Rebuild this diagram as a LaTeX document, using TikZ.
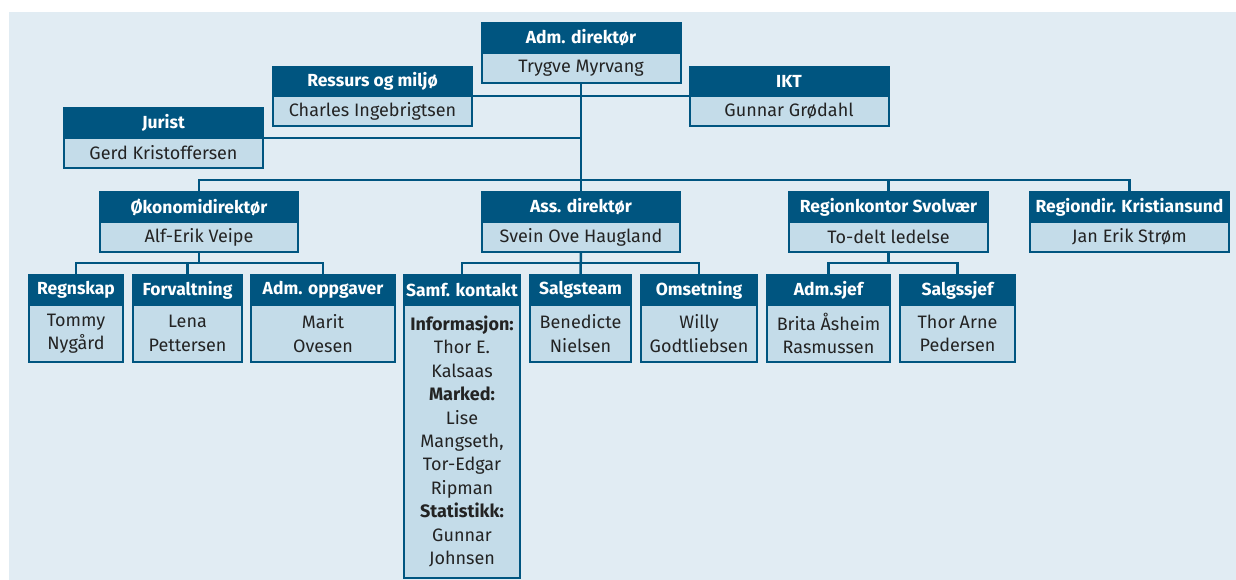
\documentclass[tikz,border=0pt]{standalone}
\usepackage{fontspec}
\setmainfont{Fira Sans}
\usetikzlibrary{positioning}

\definecolor{hdblue}{RGB}{0,85,128}
\definecolor{bdblue}{RGB}{196,220,233}
\definecolor{bgblue}{RGB}{225,236,243}
\definecolor{txtgray}{RGB}{35,35,35}

\tikzset{
  head/.style={fill=hdblue, draw=hdblue, line width=2pt, outer sep=0pt, inner sep=0pt,
    text=white, font=\fontsize{17.5}{20}\selectfont\bfseries, minimum height=30pt, anchor=north},
  body/.style={fill=bdblue, draw=hdblue, line width=2pt, outer sep=0pt, inner sep=0pt,
    text=txtgray, font=\fontsize{18}{23.4}\selectfont, align=center, below=0pt},
  link/.style={draw=hdblue, line width=2.5pt},
}

\begin{document}
\begin{tikzpicture}[x=1pt, y=-1pt]
    \useasboundingbox (0,0) rectangle (1236,580);
    \fill[bgblue] (9,12) rectangle (1236,580);

    % top level
    \node[head, minimum width=199] (admh) at (581,23) {Adm. direktør};
    \node[body, minimum width=199, minimum height=30, below=0pt of admh] (adm) {Trygve Myrvang};
    \node[head, minimum width=199, minimum height=29] (ressh) at (372.5,67) {Ressurs og miljø};
    \node[body, minimum width=199, minimum height=30, below=0pt of ressh] (ress) {Charles Ingebrigtsen};
    \node[head, minimum width=199, minimum height=29] (ikth) at (789,67) {IKT};
    \node[body, minimum width=199, minimum height=30, below=0pt of ikth] (ikt) {Gunnar Grødahl};
    \node[head, minimum width=199] (jurh) at (163.5,108) {Jurist};
    \node[body, minimum width=199, minimum height=30, below=0pt of jurh] (jur) {Gerd Kristoffersen};

    % second level
    \node[head, minimum width=198] (okoh) at (199,192) {Økonomidirektør};
    \node[body, minimum width=198, minimum height=30, below=0pt of okoh] (oko) {Alf-Erik Veipe};
    \node[head, minimum width=198] (assh) at (581,192) {Ass. direktør};
    \node[body, minimum width=198, minimum height=30, below=0pt of assh] (ass) {Svein Ove Haugland};
    \node[head, minimum width=199] (regsh) at (888.5,192) {Regionkontor Svolvær};
    \node[body, minimum width=199, minimum height=30, below=0pt of regsh] (regs) {To-delt ledelse};
    \node[head, minimum width=199] (kristh) at (1129.5,192) {Regiondir. Kristiansund};
    \node[body, minimum width=199, minimum height=30, below=0pt of kristh] (krist) {Jan Erik Strøm};

    % third level
    \node[head, minimum width=94] (regnh) at (76,275) {Regnskap};
    \node[body, minimum width=94, minimum height=57, below=0pt of regnh] (regn) {Tommy\\Nygård};
    \node[head, minimum width=109] (forvh) at (187.5,275) {Forvaltning};
    \node[body, minimum width=109, minimum height=57, below=0pt of forvh] (forv) {Lena\\Pettersen};
    \node[head, minimum width=144] (admoh) at (323,275) {Adm. oppgaver};
    \node[body, minimum width=144, minimum height=57, below=0pt of admoh] (admo) {Marit\\Ovesen};
    \node[head, minimum width=116] (samfh) at (462,275) {Samf. kontakt};
    \node[body, minimum width=116, minimum height=273, below=0pt of samfh] (samf)
      {\textbf{Informasjon:}\\Thor E.\\Kalsaas\\\textbf{Marked:}\\Lise\\Mangseth,\\Tor-Edgar\\Ripman\\\textbf{Statistikk:}\\Gunnar\\Johnsen};
    \node[head, minimum width=101] (salgh) at (580.5,275) {Salgsteam};
    \node[body, minimum width=101, minimum height=57, below=0pt of salgh] (salg) {Benedicte\\Nielsen};
    \node[head, minimum width=116] (omsh) at (699,275) {Omsetning};
    \node[body, minimum width=116, minimum height=57, below=0pt of omsh] (oms) {Willy\\Godtliebsen};
    \node[head, minimum width=123] (admsh) at (828.5,275) {Adm.sjef};
    \node[body, minimum width=123, minimum height=57, below=0pt of admsh] (adms) {Brita Åsheim\\Rasmussen};
    \node[head, minimum width=115] (salgsh) at (957.5,275) {Salgssjef};
    \node[body, minimum width=115, minimum height=57, below=0pt of salgsh] (salgs) {Thor Arne\\Pedersen};

    % lines
    \coordinate (mainbar) at (0,180);
    \coordinate (lowbar) at (0,263);
    \draw[link] (adm.south) -- (assh.north);
    \draw[link] (ress.north east) -- (ikt.north west);
    \draw[link] (jur.north east) -- (jur.north east -| adm.south);
    \draw[link] (okoh.north) |- (mainbar -| kristh.north) -- (kristh.north);
    \draw[link] (regsh.north) -- (regsh.north |- mainbar);

    \draw[link] (oko.south) -- (oko.south |- lowbar);
    \draw[link] (regnh.north) |- (lowbar -| admoh.north) -- (admoh.north);
    \draw[link] (forvh.north) -- (forvh.north |- lowbar);

    \draw[link] (samfh.north) |- (lowbar -| omsh.north) -- (omsh.north);
    \draw[link] (ass.south) -- (salgh.north);

    \draw[link] (regs.south) -- (regs.south |- lowbar);
    \draw[link] (admsh.north) |- (lowbar -| salgsh.north) -- (salgsh.north);
\end{tikzpicture}
\end{document}
